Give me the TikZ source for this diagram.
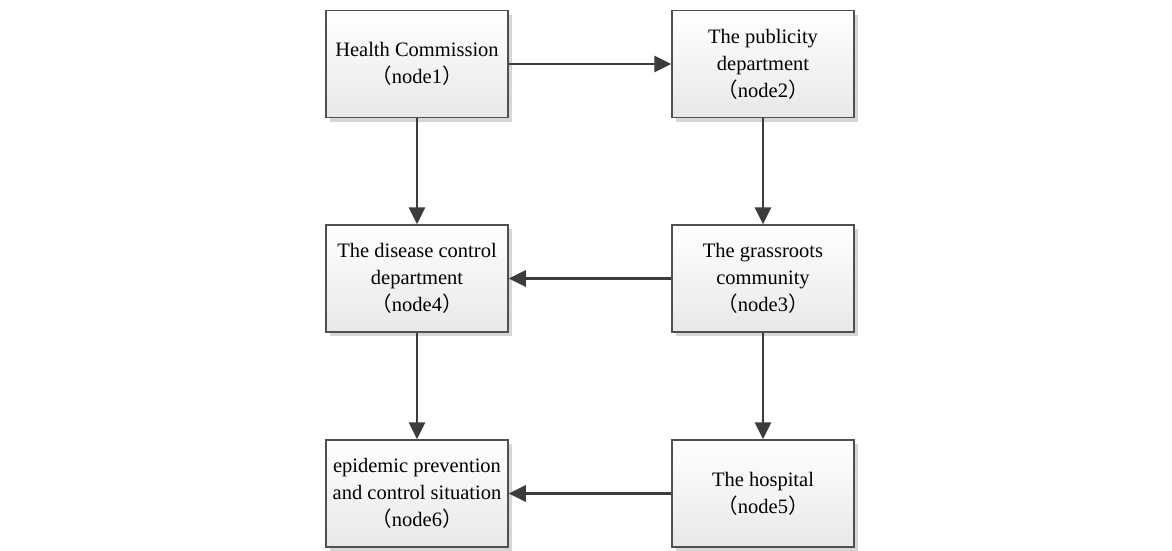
\documentclass[tikz,border=0pt]{standalone}
\usepackage{fontspec}
\setmainfont{Liberation Serif}
\newfontfamily\cjk{Noto Sans CJK SC}
\usetikzlibrary{arrows.meta,shadows}
\definecolor{edgegray}{HTML}{505050}
\definecolor{arrowgray}{HTML}{3C3C3C}
\definecolor{shadowgray}{HTML}{D6D6D6}
\newcommand{\lp}{{\cjk （}}
\newcommand{\rp}{{\cjk ）}}
\tikzset{
  stepbox/.style={draw=edgegray, line width=1.5pt, minimum width=182pt, minimum height=107pt,
    top color=white, bottom color=black!9, align=center, inner sep=2pt,
    font=\fontsize{20.5}{27}\selectfont,
    drop shadow={shadow xshift=4pt, shadow yshift=-4pt, fill=shadowgray, opacity=1}},
  flow/.style={draw=arrowgray, line width=2.8pt, -{Triangle[length=17pt,width=16pt]}}
}
\begin{document}
\begin{tikzpicture}[x=1pt,y=-1pt]
\useasboundingbox (0,0) rectangle (1172,550);
\node[stepbox] (n1) at (417,64) {Health Commission\\\lp node1\rp};
\node[stepbox] (n2) at (763,64) {The publicity\\department\\\lp node2\rp};
\node[stepbox] (n4) at (417,278.5) {The disease control\\department\\\lp node4\rp};
\node[stepbox] (n3) at (763,278.5) {The grassroots\\community\\\lp node3\rp};
\node[stepbox] (n6) at (417,493.5) {epidemic prevention\\and control situation\\\lp node6\rp};
\node[stepbox] (n5) at (763,493.5) {The hospital\\\lp node5\rp};
\draw[flow] (n1) -- (n2);
\draw[flow] (n1) -- (n4);
\draw[flow] (n2) -- (n3);
\draw[flow] (n3) -- (n4);
\draw[flow] (n4) -- (n6);
\draw[flow] (n3) -- (n5);
\draw[flow] (n5) -- (n6);
\end{tikzpicture}
\end{document}
